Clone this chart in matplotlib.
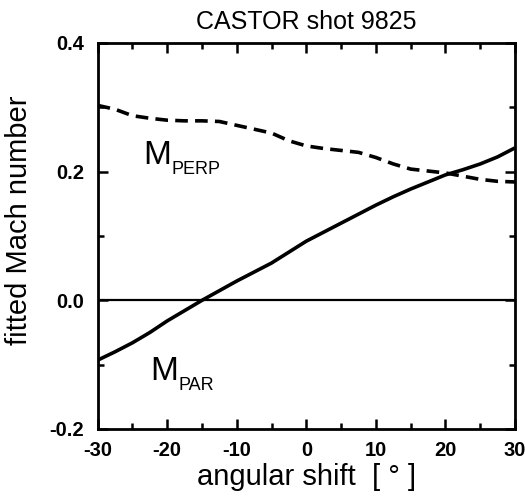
import matplotlib
matplotlib.use("Agg")
import matplotlib.pyplot as plt

angle = [-30, -27.5, -25, -22.5, -20, -17.5, -15, -12.5, -10, -7.5, -5, -2.5,
         0, 2.5, 5, 7.5, 10, 12.5, 15, 17.5, 20, 22.5, 25, 27.5, 30]
m_perp = [0.303, 0.297, 0.287, 0.283, 0.280, 0.279, 0.279, 0.278, 0.272, 0.266,
          0.260, 0.248, 0.240, 0.236, 0.233, 0.230, 0.222, 0.212, 0.204, 0.201,
          0.198, 0.193, 0.188, 0.185, 0.184]
m_par = [-0.093, -0.080, -0.066, -0.050, -0.032, -0.016, 0.000, 0.015, 0.030,
         0.044, 0.058, 0.075, 0.092, 0.106, 0.120, 0.134, 0.148, 0.161, 0.173,
         0.184, 0.195, 0.203, 0.212, 0.223, 0.237]

xticks = [-30, -20, -10, 0, 10, 20, 30]
yticks = [-0.2, 0.0, 0.2, 0.4]
yticklabels = ["-0.2", "0.0", "0.2", "0.4"]

plt.rcParams['font.family'] = ['Liberation Sans', 'DejaVu Sans']
plt.rcParams['axes.unicode_minus'] = False

fig = plt.figure(figsize=(5.25, 5.0), dpi=100)
ax = fig.add_axes([0.186, 0.142, 0.795, 0.772])

ax.plot(angle, m_par, color='black', lw=2.6, solid_capstyle='butt')
ax.plot(angle, m_perp, color='black', lw=2.6, dashes=(3.5, 2))
ax.axhline(0.0, color='black', lw=1.6)

ax.set_xlim(-30, 30)
ax.set_ylim(-0.2, 0.4)
ax.set_xticks(xticks)
ax.set_xticks([-25, -15, -5, 5, 15, 25], minor=True)
ax.set_yticks(yticks)
ax.set_yticklabels(yticklabels)
ax.set_yticks([-0.1, 0.1, 0.3], minor=True)

for s in ax.spines.values():
    s.set_linewidth(2)

ax.tick_params(which='both', direction='in', top=True, right=True, width=1.8)
ax.tick_params(which='major', length=7, labelsize=14.5)
ax.tick_params(axis='y', which='major', pad=10)
ax.tick_params(axis='x', which='major', pad=9)
ax.tick_params(which='minor', length=4)
for lbl in ax.get_xticklabels() + ax.get_yticklabels():
    lbl.set_fontweight('bold')

ax.set_title("CASTOR shot 9825", fontsize=18, pad=10)
ax.set_xlabel("angular shift  [ ° ]", fontsize=21)
ax.xaxis.set_label_coords(0.5, -0.088)
ax.set_ylabel("fitted Mach number", fontsize=21)
ax.yaxis.set_label_coords(-0.155, 0.54)

ax.text(-23.5, 0.212, "M", fontsize=24, ha='left', va='baseline')
ax.text(-19.4, 0.197, "PERP", fontsize=13, ha='left', va='baseline')
ax.text(-22.5, -0.124, "M", fontsize=24, ha='left', va='baseline')
ax.text(-18.4, -0.139, "PAR", fontsize=13, ha='left', va='baseline')

fig.savefig("out.png", dpi=100)
